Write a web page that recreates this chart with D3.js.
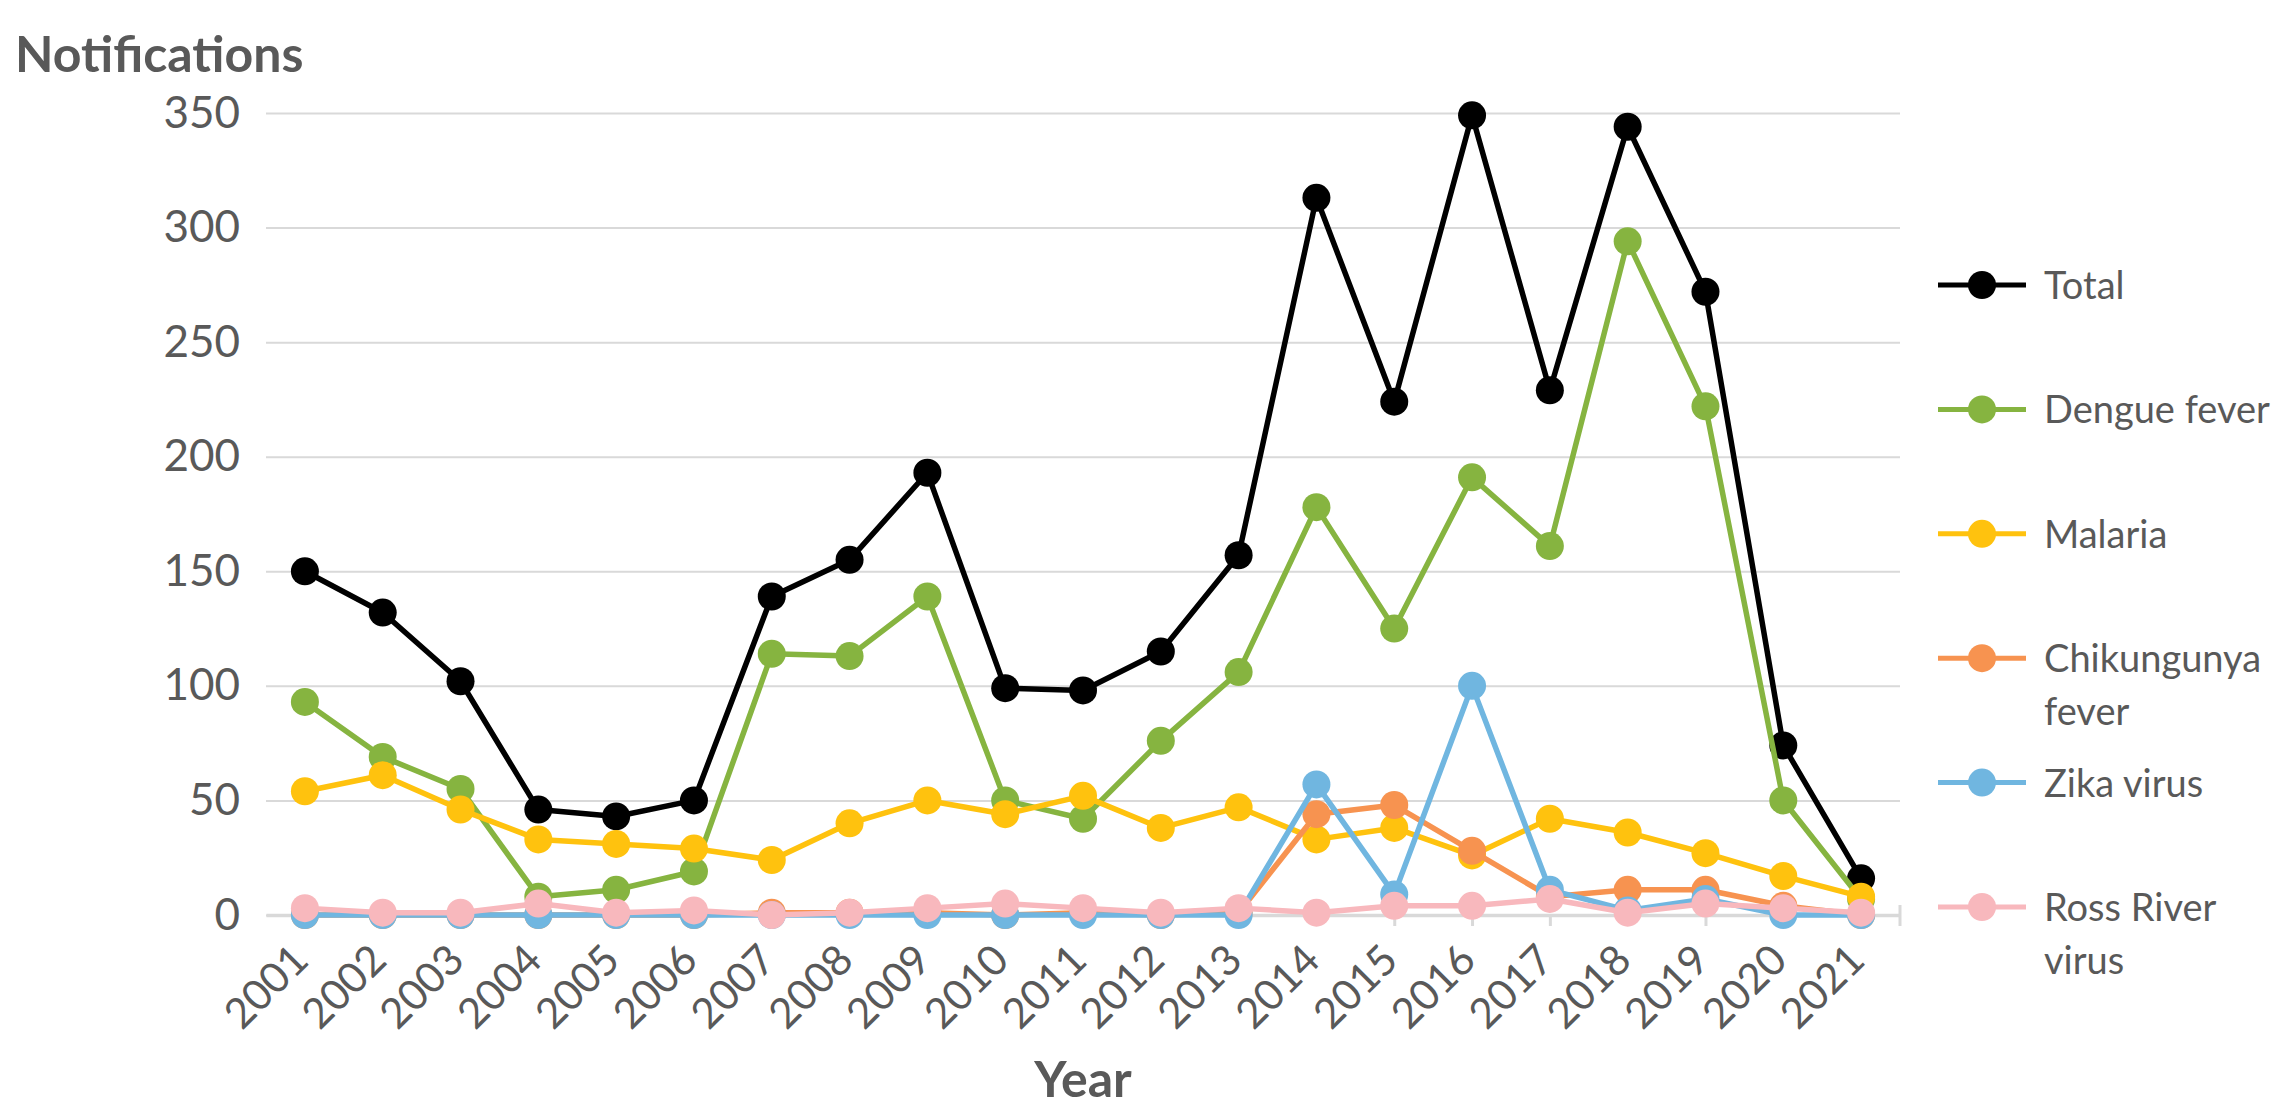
<!DOCTYPE html>
<html>
<head>
<meta charset="utf-8">
<script src="https://cdn.jsdelivr.net/npm/d3@7/dist/d3.min.js"></script>
<style>
    body { margin: 0; background: #ffffff; }
    text { font-family: Lato, "Open Sans", sans-serif; fill: #595959; }
</style>
</head>
<body>
<svg id="chart"></svg>
<script>
var years = ["2001", "2002", "2003", "2004", "2005", "2006", "2007", "2008", "2009", "2010", "2011",
             "2012", "2013", "2014", "2015", "2016", "2017", "2018", "2019", "2020", "2021"];

var total       = [150, 132, 102, 46, 43, 50, 139, 155, 193, 99, 98, 115, 157, 313, 224, 349, 229, 344, 272, 74, 16];
var dengue      = [93, 69, 55, 8, 11, 19, 114, 113, 139, 50, 42, 76, 106, 178, 125, 191, 161, 294, 222, 50, 7];
var malaria     = [54, 61, 46, 33, 31, 29, 24, 40, 50, 44, 52, 38, 47, 33, 38, 26, 42, 36, 27, 17, 8];
var chikungunya = [0, 0, 0, 0, 0, 0, 1, 1, 1, 0, 1, 0, 1, 44, 48, 28, 8, 11, 11, 4, 0];
var zika        = [0, 0, 0, 0, 0, 0, 0, 0, 0, 0, 0, 0, 0, 57, 9, 100, 11, 2, 7, 0, 0];
var rossRiver   = [3, 1, 1, 5, 1, 2, 0, 1, 3, 5, 3, 1, 3, 1, 4, 4, 7, 1, 5, 3, 1];

var seriesNames  = ["Total", "Dengue fever", "Malaria", "Chikungunya fever", "Zika virus", "Ross River virus"];
var legendLines  = [["Total"], ["Dengue fever"], ["Malaria"], ["Chikungunya", "fever"], ["Zika virus"], ["Ross River", "virus"]];
var seriesColors = ["#000000", "#86b440", "#ffc20e", "#f79350", "#70b6e0", "#f8b8bd"];
var yTicks       = [0, 50, 100, 150, 200, 250, 300, 350];

var seriesValues = [total, dengue, malaria, chikungunya, zika, rossRiver];

var W = 2283, H = 1114;
var plotLeft = 266, plotRight = 1900, plotTop = 113, plotBottom = 915;

var svg = d3.select("#chart")
    .attr("width", W)
    .attr("height", H)
;

var x = d3.scalePoint()
    .domain(years)
    .range([plotLeft, plotRight])
    .padding(0.5)
;

var y = d3.scaleLinear()
    .domain([0, 350])
    .range([plotBottom, plotTop])
;

// gridlines + y labels
var yAxis = svg.append("g")
    .attr("class", "yAxis")
    .attr("transform", "translate(" + plotLeft + ",0)")
    .call(d3.axisLeft(y)
        .tickValues(yTicks)
        .tickSize(-(plotRight - plotLeft))
        .tickPadding(26))
;
yAxis.select(".domain").remove();
yAxis.selectAll(".tick line")
    .attr("stroke", "#d9d9d9")
    .attr("stroke-width", 2)
;
yAxis.selectAll(".tick text")
    .attr("font-size", 44)
    .attr("font-family", "Lato, sans-serif")
    .attr("fill", "#595959")
;

// category axis
var xAxis = svg.append("g")
    .attr("class", "xAxis")
    .attr("transform", "translate(0," + plotBottom + ")")
    .call(d3.axisBottom(x)
        .tickSize(11)
        .tickSizeOuter(0))
;
xAxis.select(".domain")
    .attr("stroke", "#d9d9d9")
    .attr("stroke-width", 3.5)
;
xAxis.selectAll(".tick line")
    .attr("stroke", "#d9d9d9")
    .attr("stroke-width", 3)
;
xAxis.selectAll(".tick text")
    .attr("x", 0)
    .attr("y", 0)
    .attr("dy", "0.35em")
    .attr("text-anchor", "end")
    .attr("transform", "translate(-5,37) rotate(-45)")
    .attr("font-size", 42)
    .attr("font-family", "Lato, sans-serif")
    .attr("fill", "#595959")
;
xAxis.append("line")
    .attr("x1", plotRight)
    .attr("x2", plotRight)
    .attr("y1", -10)
    .attr("y2", 11)
    .attr("stroke", "#d9d9d9")
    .attr("stroke-width", 3)
;

// series, first drawn at the bottom
var line = d3.line()
    .x(function(d, i){ return x(years[i]); })
    .y(function(d){ return y(d); })
;

seriesValues.forEach(function(vals, s){
    var g = svg.append("g")
        .attr("class", "series")
    ;
    g.append("path")
        .datum(vals)
        .attr("d", line)
        .attr("fill", "none")
        .attr("stroke", seriesColors[s])
        .attr("stroke-width", 5.5)
        .attr("stroke-linejoin", "round")
    ;
    g.selectAll("circle")
        .data(vals)
        .enter().append("circle")
            .attr("cx", function(d, i){ return x(years[i]); })
            .attr("cy", function(d){ return y(d); })
            .attr("r", 14)
            .attr("fill", seriesColors[s])
    ;
});

// legend
var legend = svg.append("g")
    .attr("class", "legend")
    .attr("transform", "translate(1938,285)")
;
var item = legend.selectAll("g")
    .data(seriesNames)
    .enter().append("g")
        .attr("transform", function(d, i){ return "translate(0," + (i * 124.4) + ")"; })
;
item.append("line")
    .attr("x1", 0)
    .attr("x2", 88)
    .attr("stroke", function(d, i){ return seriesColors[i]; })
    .attr("stroke-width", 5)
;
item.append("circle")
    .attr("cx", 44)
    .attr("r", 14)
    .attr("fill", function(d, i){ return seriesColors[i]; })
;
item.each(function(d, i){
    var t = d3.select(this).append("text")
        .attr("x", 106)
        .attr("y", 14)
        .attr("font-size", 38)
    ;
    legendLines[i].forEach(function(l, k){
        t.append("tspan")
            .attr("x", 106)
            .attr("dy", k === 0 ? 0 : 53)
            .text(l)
        ;
    });
});

// titles
svg.append("text")
    .attr("x", 15)
    .attr("y", 72)
    .attr("font-size", 50)
    .attr("font-weight", "bold")
    .text("Notifications")
;
svg.append("text")
    .attr("x", (plotLeft + plotRight) / 2)
    .attr("y", 1097)
    .attr("text-anchor", "middle")
    .attr("font-size", 50)
    .attr("font-weight", "bold")
    .text("Year")
;
</script>
</body>
</html>
